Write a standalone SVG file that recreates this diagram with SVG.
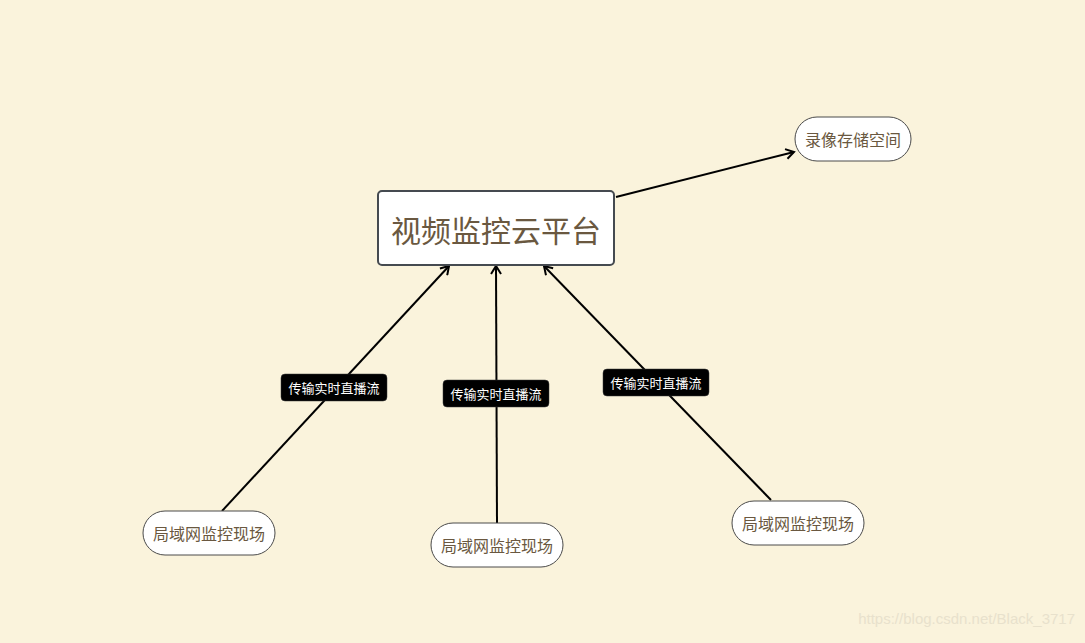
<svg xmlns="http://www.w3.org/2000/svg" width="1085" height="643" viewBox="0 0 1085 643">
<style>
.node{fill:#ffffff;stroke:#4a4a4a;stroke-width:1}
.main{fill:#ffffff;stroke:#454a50;stroke-width:2}
.t{font-family:"Liberation Sans","Noto Sans CJK SC",sans-serif;fill:#6a5840;text-anchor:middle;dominant-baseline:central}
.edge{stroke:#000;stroke-width:2;fill:none}
.lbl{fill:#000;stroke:#3a3a3a;stroke-width:0.5}
.lt{font-family:"Liberation Sans","Noto Sans CJK SC",sans-serif;fill:#fff;font-size:13px;text-anchor:middle;dominant-baseline:central}
</style>
<defs>
<marker id="arr" viewBox="0 0 12 12" refX="10" refY="6" markerWidth="12" markerHeight="12" markerUnits="userSpaceOnUse" orient="auto">
<path d="M2,1 L10,6 L2,11" fill="none" stroke="#000" stroke-width="2"/>
</marker>
</defs>
<rect width="1085" height="643" fill="#faf3dc"/>
<g id="connectors">
<line class="edge" x1="222" y1="511" x2="449" y2="266" marker-end="url(#arr)"/>
<line class="edge" x1="497" y1="523" x2="496" y2="266" marker-end="url(#arr)"/>
<line class="edge" x1="771" y1="500" x2="544" y2="266" marker-end="url(#arr)"/>
<line class="edge" x1="616" y1="197" x2="794" y2="152" marker-end="url(#arr)"/>
<g id="label1"><rect class="lbl" x="281" y="374" width="106" height="27" rx="4"/><text class="lt" x="334" y="388">传输实时直播流</text></g>
<g id="label2"><rect class="lbl" x="443" y="380" width="106" height="27" rx="4"/><text class="lt" x="496" y="394">传输实时直播流</text></g>
<g id="label3"><rect class="lbl" x="603" y="369" width="106" height="27" rx="4"/><text class="lt" x="656" y="383">传输实时直播流</text></g>
</g>
<g id="platform">
<rect class="main" x="378" y="191" width="236" height="74" rx="4"/>
<text class="t" x="496" y="231" font-size="30">视频监控云平台</text>
</g>
<g id="storage">
<rect class="node" x="795" y="117" width="116" height="44" rx="22"/>
<text class="t" x="853" y="140" font-size="16">录像存储空间</text>
</g>
<g id="site1">
<rect class="node" x="143" y="511" width="132" height="44" rx="22"/>
<text class="t" x="209" y="534" font-size="16">局域网监控现场</text>
</g>
<g id="site2">
<rect class="node" x="431" y="523" width="132" height="44" rx="22"/>
<text class="t" x="497" y="546" font-size="16">局域网监控现场</text>
</g>
<g id="site3">
<rect class="node" x="732" y="501" width="132" height="44" rx="22"/>
<text class="t" x="798" y="524" font-size="16">局域网监控现场</text>
</g>
<text x="1075" y="624" font-family="Liberation Sans,sans-serif" font-size="15" fill="#e8e1cc" text-anchor="end">https://blog.csdn.net/Black_3717</text>
</svg>
